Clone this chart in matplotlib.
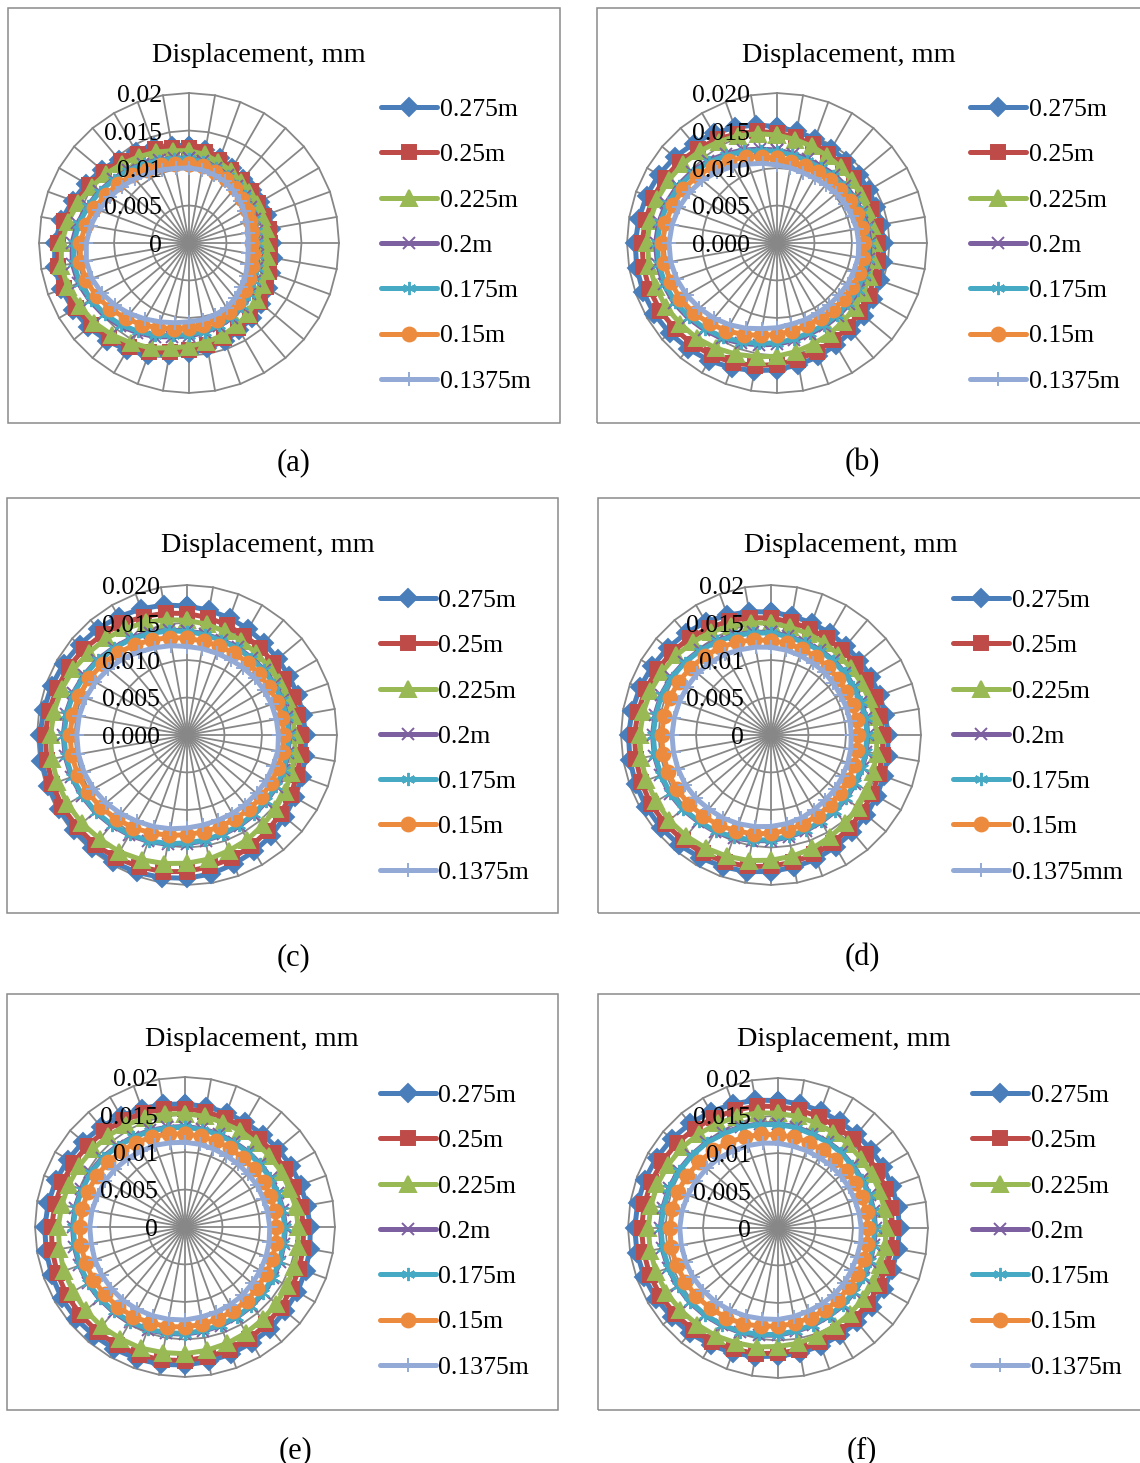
import numpy as np
import matplotlib
matplotlib.use('Agg')
import matplotlib.pyplot as plt
from matplotlib.lines import Line2D
from matplotlib.patches import Rectangle
from matplotlib import transforms

plt.rcParams['font.family'] = ['Liberation Serif', 'DejaVu Serif']

W, H, DPI = 1140, 1463, 100

# displacement, unit 1e-4 mm
# 36 directions, first one at the top, going clockwise
a275 = [130,126,120,115,111,110,110,110,111,111,114,117,121,126,130,134,139,142,147,152,159,165,170,175,178,181,182,179,173,165,158,152,145,140,136,132]
a250 = [127,123,118,113,109,108,107,107,108,108,110,113,118,123,127,131,135,138,143,148,154,160,165,170,174,177,178,175,169,161,154,148,142,137,133,129]
a225 = [123,120,115,111,107,105,104,103,104,103,106,109,113,118,123,127,131,134,138,142,149,154,160,165,168,172,173,170,164,157,150,144,138,133,129,125]
a200 = [113,111,107,104,100,98,95,93,92,91,93,97,101,106,111,115,118,121,124,127,133,138,144,149,153,157,158,156,151,144,138,132,127,122,118,115]
a175 = [112,110,106,103,99,97,94,92,91,90,92,96,100,105,110,114,117,120,122,125,131,136,142,147,151,155,156,154,149,143,137,131,126,121,117,114]
a150 = [105,104,101,99,95,92,89,86,85,84,86,89,92,97,102,106,109,111,113,116,120,126,131,137,142,146,147,145,140,135,128,123,118,113,110,107]
a1375 = [100,99,97,95,92,88,85,82,80,79,80,83,87,91,96,100,102,104,105,108,112,117,123,129,134,138,139,137,133,128,122,117,112,107,104,101]

b275 = [155,151,148,145,143,142,141,141,141,142,144,146,148,151,154,157,161,165,169,173,177,181,184,187,189,190,190,189,187,185,182,178,173,169,164,160]
b250 = [147,143,140,137,136,134,133,133,134,135,137,138,141,144,147,150,154,158,162,166,170,173,176,178,180,181,181,180,178,176,173,169,164,160,155,151]
b225 = [144,140,137,134,132,130,129,128,128,129,130,131,133,135,137,140,143,147,151,154,158,162,166,168,171,172,173,173,172,170,167,164,160,156,152,148]
b200 = [124,121,119,118,119,119,120,121,123,124,125,125,126,126,127,128,129,132,135,138,142,147,151,155,159,161,162,162,160,157,153,148,143,137,132,127]
b175 = [122,119,117,116,117,117,118,119,121,122,123,123,124,124,125,126,127,130,133,136,140,145,149,153,157,159,160,160,158,155,151,146,141,135,130,125]
b150 = [113,110,109,109,109,110,112,114,115,116,117,117,116,116,116,116,117,119,122,125,130,135,140,145,149,151,153,153,151,148,144,139,133,127,122,117]
b1375 = [104,102,100,100,101,103,105,106,108,109,110,109,109,108,108,108,109,110,113,116,121,126,131,135,139,142,144,144,142,139,135,130,124,118,112,108]

c275 = [172,169,166,163,160,158,157,157,157,158,160,163,166,170,175,179,183,188,191,193,195,196,197,197,197,197,197,196,194,192,190,187,185,182,179,176]
c250 = [162,159,156,153,152,150,149,150,150,152,154,156,160,163,167,171,175,178,182,185,187,189,191,191,192,191,190,189,187,184,182,179,175,172,168,165]
c225 = [153,150,147,145,143,142,142,142,143,144,146,148,151,154,157,161,164,168,171,174,177,180,181,183,184,184,183,182,180,178,175,171,168,164,160,156]
c200 = [139,137,135,135,134,135,135,136,136,137,137,138,138,138,139,140,141,143,145,148,151,154,157,160,162,164,165,165,164,162,159,156,152,149,145,142]
c175 = [138,136,134,134,133,134,134,135,135,136,136,137,137,137,138,139,140,142,144,147,150,153,156,159,161,163,164,164,163,161,158,155,151,148,144,141]
c150 = [129,127,126,126,126,126,127,128,129,129,130,129,129,129,129,129,130,131,133,136,139,143,146,150,153,155,156,156,155,153,151,147,143,139,135,132]
c1375 = [118,117,116,116,117,118,119,120,121,122,123,122,122,121,121,121,121,122,124,127,130,133,137,141,144,146,147,147,146,144,141,137,133,128,124,121]

d275 = [164,161,159,157,155,154,154,154,155,156,158,160,163,166,169,172,176,179,182,185,187,189,191,192,192,192,191,190,188,186,183,180,177,174,170,167]
d250 = [156,153,151,149,148,147,146,147,148,149,151,153,156,159,162,166,169,172,175,178,180,182,183,184,185,184,183,182,180,178,175,172,169,165,162,159]
d225 = [149,146,144,142,140,139,139,139,140,141,143,145,148,151,154,157,161,164,167,170,172,174,176,177,177,177,176,175,173,171,168,165,162,159,155,152]
d200 = [137,134,132,131,130,129,128,128,129,129,129,130,130,131,133,134,136,138,141,143,146,149,151,154,156,157,158,158,157,156,154,151,148,145,142,139]
d175 = [136,133,131,130,129,128,127,127,128,128,128,129,129,130,132,133,135,137,140,142,145,148,150,153,155,156,157,157,156,155,153,150,147,144,141,138]
d150 = [126,124,122,120,118,117,116,116,116,116,117,118,119,120,122,124,126,129,131,134,136,139,141,143,145,146,146,146,145,144,142,140,137,135,132,129]
d1375 = [117,115,113,111,110,108,107,107,107,107,108,109,110,112,113,115,118,120,122,124,126,128,129,131,132,132,132,132,131,130,129,128,126,124,121,119]

e275 = [164,163,162,161,161,162,163,164,165,167,169,171,173,174,177,178,180,182,184,186,187,188,189,190,190,189,188,187,185,183,180,177,174,171,168,166]
e250 = [158,156,155,154,154,154,154,155,157,158,160,162,164,167,169,172,174,176,178,180,181,182,182,182,182,181,180,178,176,174,172,169,167,164,162,160]
e225 = [151,150,148,148,147,147,148,148,150,151,153,155,157,159,161,163,165,167,169,170,172,172,173,173,172,172,170,169,167,165,163,161,159,157,155,153]
e200 = [134,133,132,131,131,131,132,132,133,134,134,135,136,137,138,139,140,141,143,144,146,147,148,149,150,150,150,150,149,147,146,144,141,139,137,135]
e175 = [133,132,131,130,130,130,131,131,132,133,133,134,135,136,137,138,139,140,142,143,145,146,147,148,149,149,149,149,148,146,145,143,140,138,136,134]
e150 = [124,123,122,121,120,120,121,121,122,122,123,124,125,126,128,129,130,132,133,135,136,138,139,140,141,141,141,140,139,138,136,134,132,130,128,126]
e1375 = [113,112,111,110,110,110,111,111,112,113,114,115,116,117,119,120,121,122,124,125,126,127,128,128,128,128,127,127,126,124,123,121,119,117,116,114]

f275 = [170,168,166,164,163,162,162,162,162,162,162,162,163,163,164,165,167,169,171,174,177,180,183,185,188,190,191,191,190,189,187,185,182,179,176,173]
f250 = [162,160,158,156,155,153,153,153,153,153,154,154,155,157,158,160,162,165,167,170,172,175,177,179,181,182,182,182,181,180,178,176,173,170,167,165]
f225 = [153,151,149,147,146,144,144,144,144,144,145,145,146,148,149,151,153,156,158,161,163,166,168,170,172,173,173,173,172,171,169,167,164,161,158,156]
f200 = [139,137,134,133,132,130,130,130,130,130,130,131,132,133,135,136,138,140,143,145,148,150,152,154,155,156,157,157,156,155,153,151,149,146,144,141]
f175 = [138,136,133,132,131,129,129,129,129,129,129,130,131,132,134,135,137,139,142,144,147,149,151,153,154,155,156,156,155,154,152,150,148,145,143,140]
f150 = [124,123,121,120,119,119,119,119,120,120,121,122,122,123,125,126,127,129,131,133,136,138,140,142,143,144,145,144,143,142,140,137,135,132,129,127]
f1375 = [113,111,110,109,109,109,109,109,110,111,112,112,113,115,116,117,118,120,122,123,125,127,129,130,131,131,131,131,130,128,126,124,122,119,117,115]

names = ['0.275m', '0.25m', '0.225m', '0.2m', '0.175m', '0.15m', '0.1375m']
names_d = ['0.275m', '0.25m', '0.225m', '0.2m', '0.175m', '0.15m', '0.1375mm']
rings = [0.0, 0.005, 0.01, 0.015, 0.02]
rl_short = ['0', '0.005', '0.01', '0.015', '0.02']
rl_fixed = ['0.000', '0.005', '0.010', '0.015', '0.020']

colors = ['#4A7EBB', '#BE4B48', '#98B954', '#7D60A0', '#46AAC5', '#EC8B3D', '#93AAD6']
markers = ['D', 's', '^', 'x', (6, 2, 0), 'o', '+']
msizes = [9, 10, 11.5, 8.5, 9.5, 10, 10]
gridc = '#878787'

panels = [
    dict(cap='(a)', data=[a275, a250, a225, a200, a175, a150, a1375], rl=rl_short, names=names,
         cx=189, cy=243, box=(8, 8, 560, 423), title=(259, 52), leg=(381, 437, 440, 107), capxy=(294, 460)),
    dict(cap='(b)', data=[b275, b250, b225, b200, b175, b150, b1375], rl=rl_fixed, names=names,
         cx=777, cy=243, box=(597, 8, 1150, 423), title=(849, 52), leg=(970, 1026, 1029, 107), capxy=(862, 460)),
    dict(cap='(c)', data=[c275, c250, c225, c200, c175, c150, c1375], rl=rl_fixed, names=names,
         cx=187, cy=735, box=(7, 498, 558, 913), title=(268, 543), leg=(380, 436, 438, 598), capxy=(294, 955)),
    dict(cap='(d)', data=[d275, d250, d225, d200, d175, d150, d1375], rl=rl_short, names=names_d,
         cx=771, cy=735, box=(598, 498, 1150, 913), title=(851, 543), leg=(953, 1009, 1012, 598), capxy=(862, 955)),
    dict(cap='(e)', data=[e275, e250, e225, e200, e175, e150, e1375], rl=rl_short, names=names,
         cx=185, cy=1227, box=(7, 994, 558, 1410), title=(252, 1036), leg=(380, 436, 438, 1093), capxy=(295, 1448)),
    dict(cap='(f)', data=[f275, f250, f225, f200, f175, f150, f1375], rl=rl_short, names=names,
         cx=778, cy=1228, box=(598, 994, 1150, 1410), title=(844, 1036), leg=(972, 1028, 1031, 1093), capxy=(862, 1448)),
]

for p in panels:
    for s in p['data']:
        assert len(s) == 36


def fx(x):
    return x / W


def fy(y):
    return 1 - y / H


TDY = 3  # text sits a little low compared to va='center'

fig = plt.figure(figsize=(W / DPI, H / DPI), dpi=DPI)
R_PX = 150
theta = np.deg2rad(np.arange(36) * 10.0)
tc = np.append(theta, theta[0])

for p in panels:
    x0, y0, x1, y1 = p['box']
    fig.add_artist(Rectangle((fx(x0), fy(y1)), fx(x1) - fx(x0), fy(y0) - fy(y1),
                             transform=fig.transFigure, fill=False, ec='#8a8a8a', lw=1.1))

    ax = fig.add_axes([fx(p['cx'] - R_PX), fy(p['cy'] + R_PX), 2 * R_PX / W, 2 * R_PX / H],
                      projection='polar')
    ax.set_theta_zero_location('N')
    ax.set_theta_direction(-1)
    ax.grid(False)
    ax.set_xticks([])
    ax.set_yticks([])
    ax.spines['polar'].set_visible(False)
    ax.set_facecolor('none')

    # polygon rings and spokes like excel
    for r in rings[1:]:
        ax.plot(tc, np.full(len(tc), r), color=gridc, lw=1.3, zorder=1, clip_on=False)
    for t in theta:
        ax.plot([t, t], [0, rings[-1]], color=gridc, lw=1.3, zorder=1, clip_on=False)

    for i, s in enumerate(p['data']):
        v = np.array(s) / 1e4
        v = np.append(v, v[0])
        ax.plot(tc, v, color=colors[i], lw=3.6, marker=markers[i], ms=msizes[i],
                mec=colors[i], mfc=colors[i], mew=1.4, solid_joinstyle='round',
                zorder=2 + i, clip_on=False)

    ax.set_ylim(0, rings[-1])

    tr = transforms.offset_copy(ax.transData, fig=fig, x=-27, y=-TDY, units='dots')
    for r, lab in zip(rings, p['rl']):
        ax.text(0, r, lab, transform=tr, ha='right', va='center', fontsize=18.5, zorder=20)

    fig.text(fx(p['title'][0]), fy(p['title'][1] + TDY), 'Displacement, mm', ha='center', va='center', fontsize=20.3)
    fig.text(fx(p['capxy'][0]), fy(p['capxy'][1] + TDY), p['cap'], ha='center', va='center', fontsize=22)

    lx0, lx1, tx, ly = p['leg']
    for k in range(7):
        yy = fy(ly + k * 45.3)
        ln = Line2D([fx(lx0), fx((lx0 + lx1) / 2), fx(lx1)], [yy, yy, yy], transform=fig.transFigure,
                    color=colors[k], lw=3.6, marker=markers[k], ms=msizes[k], markevery=[1],
                    mec=colors[k], mfc=colors[k], mew=1.4, solid_capstyle='round')
        fig.add_artist(ln)
        fig.text(fx(tx), fy(ly + k * 45.3 + TDY), p['names'][k], ha='left', va='center', fontsize=18.5)

fig.savefig('out.png', dpi=DPI)
